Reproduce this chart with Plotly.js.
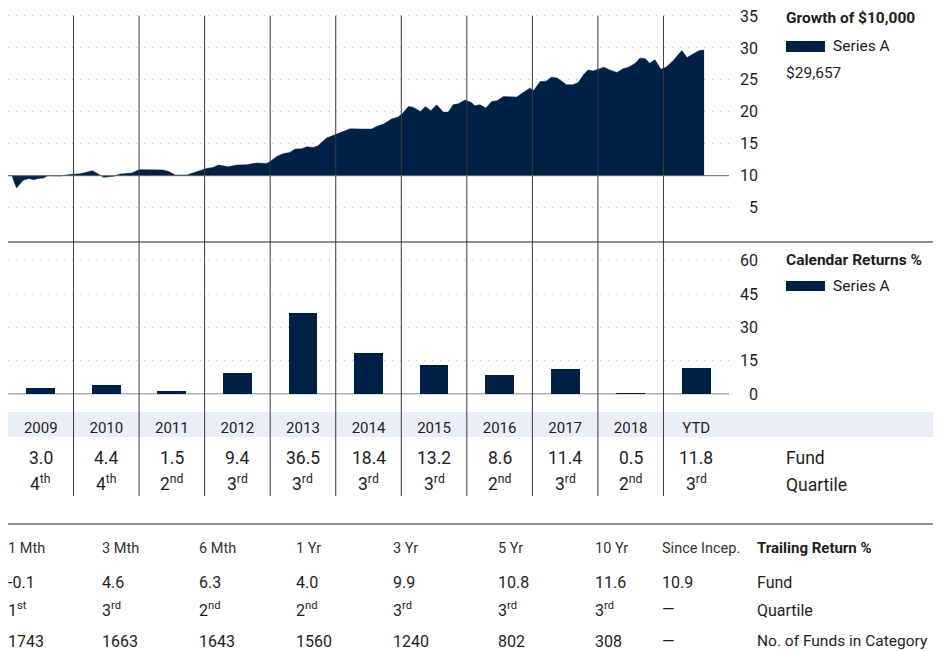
<!DOCTYPE html>
<html>
<head>
<meta charset="utf-8">
<script src="https://cdn.plot.ly/plotly-3.0.1.min.js"></script>
<style>html,body{margin:0;padding:0;background:#fff;}#chart{width:949px;height:651px;}</style>
</head>
<body>
<div id="chart"></div>
<script>
// ---------- data ----------
const years = ['2009','2010','2011','2012','2013','2014','2015','2016','2017','2018','YTD'];
const calReturns = [3.0, 4.4, 1.5, 9.4, 36.5, 18.4, 13.2, 8.6, 11.4, 0.5, 11.8];
const calQuartile = ['4th','4th','2nd','3rd','3rd','3rd','3rd','2nd','3rd','2nd','3rd'];

// growth of $10,000 (thousands), x in decimal years
const growthT = [2009.00,2009.06,2009.13,2009.23,2009.32,2009.39,2009.46,2009.54,2009.61,2009.79,2009.95,
  2010.10,2010.29,2010.38,2010.46,2010.61,2010.71,2010.89,2011.00,2011.12,2011.37,2011.45,2011.55,2011.73,2011.88,
  2012.03,2012.13,2012.21,2012.36,2012.49,2012.64,2012.79,2012.95,2013.00,2013.10,2013.20,2013.30,2013.38,2013.48,
  2013.56,2013.66,2013.73,2013.86,2013.99,2014.12,2014.22,2014.37,2014.55,2014.62,2014.73,2014.85,2014.95,2015.01,
  2015.11,2015.18,2015.29,2015.37,2015.45,2015.54,2015.64,2015.72,2015.79,2015.87,2015.97,2016.07,2016.12,2016.20,
  2016.29,2016.38,2016.46,2016.56,2016.76,2016.86,2016.96,2017.02,2017.12,2017.21,2017.29,2017.38,2017.52,2017.62,
  2017.70,2017.78,2017.85,2017.93,2018.01,2018.09,2018.18,2018.29,2018.39,2018.46,2018.57,2018.64,2018.72,2018.79,
  2018.87,2018.96,2019.04,2019.15,2019.28,2019.36,2019.45,2019.55,2019.62];
const growthV = [10.00,10.00,8.08,9.27,9.58,9.38,9.58,9.64,10.00,9.95,10.20,
  10.30,10.78,10.16,9.74,9.90,10.26,10.42,10.94,10.94,10.89,10.67,10.10,10.10,10.67,
  11.14,11.30,11.67,11.40,11.67,11.72,11.98,11.92,12.23,13.02,13.44,13.64,14.17,14.22,
  14.53,14.42,14.70,15.89,16.45,16.92,17.34,17.30,17.30,17.70,18.08,18.86,19.17,19.64,
  20.83,20.73,20.05,20.83,20.16,21.10,19.95,19.95,21.10,21.25,21.83,21.45,20.94,21.10,
  20.58,21.61,21.72,22.39,22.30,23.02,23.70,23.33,24.73,24.80,25.42,25.27,24.22,24.22,
  24.58,25.78,26.56,26.40,26.67,26.98,26.56,26.14,26.77,26.92,27.61,28.39,28.33,27.61,
  28.13,26.67,26.98,28.02,29.58,28.48,29.06,29.58,29.66];
const growthStart = 10;
const growthFinal = '$29,657';

const growthTicks = [5, 10, 15, 20, 25, 30, 35];
const calTicks = [0, 15, 30, 45, 60];

const trailingPeriods = ['1 Mth','3 Mth','6 Mth','1 Yr','3 Yr','5 Yr','10 Yr','Since Incep.'];
const trailingFund = ['-0.1','4.6','6.3','4.0','9.9','10.8','11.6','10.9'];
const trailingQuartile = ['1st','3rd','2nd','2nd','3rd','3rd','3rd','\u2014'];
const trailingCount = ['1743','1663','1643','1560','1240','802','308','\u2014'];

// ---------- layout helpers ----------
const W = 949, H = 651;
const PX = x => x / W;
const PY = y => 1 - y / H;
const FONT = "Roboto, 'Liberation Sans', sans-serif";
const NAVY = '#002147';
const TXT = '#1e1e1e';
const sup = q => q === '\u2014' ? q : q.replace(/^(\d)(\D+)$/, '$1<sup>$2</sup>');
const pad = v => (String(v).length < 2 ? '\u2007' : '') + v;

const traces = [
  { type: 'scatter', mode: 'lines', x: [growthT[0], growthT[growthT.length - 1]], y: [growthStart, growthStart],
    xaxis: 'x2', yaxis: 'y2', line: { width: 0, color: NAVY }, hoverinfo: 'skip', showlegend: false },
  { type: 'scatter', mode: 'lines', x: growthT, y: growthV, xaxis: 'x2', yaxis: 'y2',
    fill: 'tonexty', fillcolor: NAVY, line: { width: 0.5, color: NAVY }, name: 'Series A', showlegend: false },
  { type: 'bar', x: years.map((_, i) => i), y: calReturns, xaxis: 'x', yaxis: 'y',
    marker: { color: NAVY }, width: 0.44, name: 'Series A', showlegend: false }
];

const shapes = [];
const annotations = [];
const xDomain = [PX(8), PX(729)];

// year separators
for (let i = 0; i < years.length - 1; i++) {
  shapes.push({ type: 'line', xref: 'x', yref: 'paper', x0: i + 0.5, x1: i + 0.5, y0: PY(496), y1: PY(15.7),
    line: { color: '#3a3a3a', width: 1 }, layer: 'above' });
}
// year band
shapes.push({ type: 'rect', xref: 'paper', yref: 'paper', x0: PX(8), x1: PX(933), y0: PY(437), y1: PY(412),
  fillcolor: '#E9EEF8', line: { width: 0 }, layer: 'below' });
// baselines
shapes.push({ type: 'line', xref: 'paper', yref: 'y2', x0: xDomain[0], x1: xDomain[1], y0: growthStart, y1: growthStart,
  line: { color: '#666', width: 1 } });
shapes.push({ type: 'line', xref: 'paper', yref: 'y', x0: xDomain[0], x1: xDomain[1], y0: 0, y1: 0,
  line: { color: '#666', width: 1.5 }, layer: 'below' });
// dividers
shapes.push({ type: 'line', xref: 'paper', yref: 'paper', x0: PX(8), x1: PX(933), y0: PY(242), y1: PY(242),
  line: { color: '#222', width: 1.2 } });
shapes.push({ type: 'line', xref: 'paper', yref: 'paper', x0: PX(8), x1: PX(933), y0: PY(524), y1: PY(524),
  line: { color: '#222', width: 1.2 } });
// legend swatches
shapes.push({ type: 'rect', xref: 'paper', yref: 'paper', x0: PX(786), x1: PX(825), y0: PY(52), y1: PY(41),
  fillcolor: NAVY, line: { width: 0 } });
shapes.push({ type: 'rect', xref: 'paper', yref: 'paper', x0: PX(786), x1: PX(825), y0: PY(291), y1: PY(281),
  fillcolor: NAVY, line: { width: 0 } });

const ann = (text, x, y, size, opts = {}) => Object.assign({
  text, x, y, xref: 'paper', yref: 'paper', xanchor: 'left', yanchor: 'middle', showarrow: false,
  font: { family: FONT, size, color: TXT }
}, opts);

// legend texts
annotations.push(ann('<b>Growth of $10,000</b>', PX(784), PY(18), 15.5));
annotations.push(ann('Series A', PX(831), PY(46), 15.5));
annotations.push(ann(growthFinal, PX(784), PY(73), 15.5));
annotations.push(ann('<b>Calendar Returns %</b>', PX(784), PY(260), 15.5));
annotations.push(ann('Series A', PX(831), PY(286), 15.5));

// calendar rows
years.forEach((_, i) => {
  annotations.push(ann(calReturns[i].toFixed(1), i, PY(458), 17.5, { xref: 'x', xanchor: 'center' }));
  annotations.push(ann(sup(calQuartile[i]), i, PY(483), 17.5, { xref: 'x', xanchor: 'center' }));
});
annotations.push(ann('Fund', PX(784), PY(458), 17.5));
annotations.push(ann('Quartile', PX(784), PY(485), 17.5));

// trailing table
const colX = [8, 102, 199, 296, 393, 498, 595, 662];
trailingPeriods.forEach((p, i) => {
  annotations.push(ann(p, PX(colX[i] - 2), PY(548), 14.5, { font: { family: FONT, size: 14.5, color: '#333' } }));
  annotations.push(ann(trailingFund[i], PX(colX[i] - 2), PY(582), 16));
  annotations.push(ann(sup(trailingQuartile[i]), PX(colX[i] - 2), PY(609), 16));
  annotations.push(ann(trailingCount[i], PX(colX[i] - 2), PY(641), 16));
});
annotations.push(ann('<b>Trailing Return %</b>', PX(755), PY(548), 15));
annotations.push(ann('Fund', PX(755), PY(582), 16));
annotations.push(ann('Quartile', PX(755), PY(610), 16));
annotations.push(ann('No. of Funds in Category', PX(755), PY(641), 15.5));

const layout = {
  width: W, height: H, margin: { l: 0, r: 0, t: 0, b: 0 },
  paper_bgcolor: '#fff', plot_bgcolor: 'rgba(0,0,0,0)',
  font: { family: FONT, size: 16, color: TXT },
  showlegend: false,
  bargap: 0,
  xaxis: {
    domain: xDomain, anchor: 'y', range: [-0.5, years.length - 0.5],
    tickmode: 'array', tickvals: years.map((_, i) => i), ticktext: years,
    showgrid: false, zeroline: false, showline: false, ticks: '',
    ticklabelstandoff: 23, tickfont: { family: FONT, size: 15, color: TXT }, fixedrange: true
  },
  yaxis: {
    domain: [PY(394.3), PY(242)], anchor: 'x', side: 'right',
    range: [0, (394.3 - 242) / 2.227],
    tickmode: 'array', tickvals: calTicks, ticktext: calTicks.map(pad),
    showgrid: true, gridcolor: '#c4c4c4', griddash: '1px,7px', gridwidth: 1,
    zeroline: false, showline: false, ticks: '', ticklabelstandoff: 10,
    tickfont: { family: FONT, size: 16, color: TXT }, fixedrange: true
  },
  xaxis2: {
    domain: xDomain, anchor: 'y2', range: [2009, 2020],
    showticklabels: false, showgrid: false, zeroline: false, showline: false, ticks: '', fixedrange: true
  },
  yaxis2: {
    domain: [PY(242), PY(13)], anchor: 'x2', side: 'right',
    range: [10 - (242 - 175.7) / 6.39, 10 + (175.7 - 13) / 6.39],
    tickmode: 'array', tickvals: growthTicks, ticktext: growthTicks.map(pad),
    showgrid: true, gridcolor: '#c4c4c4', griddash: '1px,7px', gridwidth: 1,
    zeroline: false, showline: false, ticks: '', ticklabelstandoff: 10,
    tickfont: { family: FONT, size: 16, color: TXT }, fixedrange: true
  },
  shapes, annotations
};

Plotly.newPlot('chart', traces, layout, { staticPlot: true, displayModeBar: false });
</script>
</body>
</html>
